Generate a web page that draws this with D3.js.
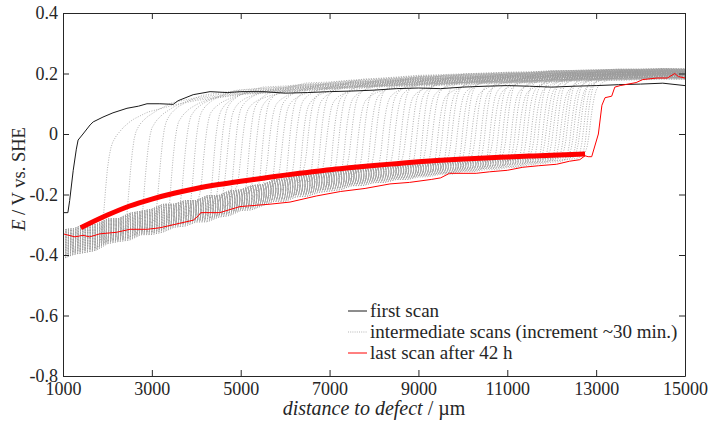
<!DOCTYPE html>
<html><head><meta charset="utf-8">
<script src="https://cdn.jsdelivr.net/npm/d3@7"></script>
<style>
body{margin:0;background:#fff}
svg text{font-family:"Liberation Serif","Times New Roman",Times,serif;fill:#262626}
</style>
</head><body>
<svg id="c" width="709" height="426"></svg>
<script>
// ---------------- data ----------------
const xTicks = [1000,3000,5000,7000,9000,11000,13000,15000];
const yTicks = [-0.8,-0.6,-0.4,-0.2,0,0.2,0.4];

// first scan
const firstScanX = [1000,1110,1150,1230,1300,1340,1450,1610,1680,1900,2125,2440,2700,2890,3180,3480,3590,3930,4310,4700,5000,5500,6000,6500,7000,7500,8000,8500,9000,9500,10000,10500,11000,11500,12000,12500,13000,13500,14000,14500,15000];
const firstScanE = [-0.26,-0.26,-0.22,-0.12,-0.05,-0.02,0.0,0.03,0.04,0.056,0.07,0.085,0.092,0.10,0.10,0.098,0.11,0.13,0.14,0.137,0.14,0.14,0.135,0.137,0.14,0.142,0.145,0.15,0.152,0.15,0.155,0.158,0.16,0.158,0.155,0.158,0.16,0.163,0.165,0.168,0.16];

// last scan after 42 h
const lastScanX = [1000,1270,1450,1600,1830,2200,2510,2900,3180,3630,3930,4050,4100,4530,4980,5660,6110,6700,7250,7800,8360,8800,9300,9500,9700,10300,10600,11000,11350,11700,12110,12400,12630,12750,12820,12900,13050,13130,13200,13350,13420,13540,13900,14050,14370,14600,14770,14850,15000];
const lastScanE = [-0.33,-0.34,-0.335,-0.34,-0.33,-0.325,-0.315,-0.315,-0.31,-0.295,-0.285,-0.27,-0.26,-0.26,-0.24,-0.232,-0.225,-0.205,-0.19,-0.18,-0.165,-0.16,-0.15,-0.145,-0.13,-0.13,-0.125,-0.12,-0.11,-0.105,-0.10,-0.09,-0.085,-0.072,-0.075,-0.075,0.0,0.095,0.12,0.125,0.155,0.16,0.17,0.18,0.185,0.185,0.2,0.19,0.185];

// thick red fit through the front potentials
const fitX = [1400,2000,2500,3000,3500,4000,4500,5000,5500,6000,6500,7000,7500,8000,8500,9000,9500,10000,10500,11000,11500,12000,12750];
const fitE = [-0.31,-0.268,-0.238,-0.215,-0.196,-0.18,-0.167,-0.156,-0.146,-0.136,-0.127,-0.118,-0.111,-0.104,-0.098,-0.092,-0.087,-0.083,-0.079,-0.076,-0.073,-0.07,-0.066];

// envelope of the intermediate scans, delaminated part (left of each front)
const lowerX   = [1000,1250,1500,1750,2000,2250,2500,2750,3000,3250,3500,3750,4000,4250,4500,4750,5000,5250,5500,5750,6000,6250,6500,6750,7000,7250,7500,7750,8000,8250,8500,8750,9000,9250,9500,9750,10000,10250,10500,10750,11000,11250,11500,11750,12000,12250,12500,12750,13000];
const lowerTop = [-0.311,-0.308,-0.292,-0.295,-0.276,-0.276,-0.257,-0.251,-0.244,-0.227,-0.228,-0.215,-0.216,-0.199,-0.2,-0.183,-0.181,-0.166,-0.163,-0.147,-0.144,-0.132,-0.134,-0.12,-0.122,-0.112,-0.114,-0.102,-0.104,-0.095,-0.098,-0.09,-0.093,-0.085,-0.088,-0.081,-0.085,-0.077,-0.08,-0.074,-0.077,-0.071,-0.074,-0.069,-0.072,-0.067,-0.07,-0.065,-0.066];
const lowerBot = [-0.423,-0.407,-0.402,-0.394,-0.372,-0.364,-0.361,-0.342,-0.342,-0.335,-0.317,-0.314,-0.299,-0.3,-0.283,-0.279,-0.261,-0.26,-0.244,-0.231,-0.231,-0.216,-0.214,-0.201,-0.196,-0.192,-0.177,-0.178,-0.167,-0.167,-0.156,-0.157,-0.148,-0.147,-0.138,-0.139,-0.129,-0.13,-0.122,-0.123,-0.115,-0.115,-0.105,-0.106,-0.098,-0.097,-0.088,-0.087,-0.08];
// envelope of the intermediate scans, intact part (right of each front)
const upperX   = [1000,1250,1500,1750,2000,2500,3000,3500,4000,4500,5000,5500,6000,6500,7000,7500,8000,8500,9000,9500,10000,10500,11000,11500,12000,12500,13000,13500,14000,14500,15000];
const upperTop = [-0.02,0.0,0.012,0.03,0.05,0.08,0.10,0.12,0.135,0.148,0.155,0.162,0.165,0.172,0.175,0.182,0.185,0.19,0.196,0.198,0.201,0.203,0.206,0.207,0.211,0.212,0.214,0.216,0.216,0.218,0.217];
const upperBot = [-0.06,-0.045,-0.03,-0.01,0.01,0.05,0.07,0.09,0.105,0.113,0.125,0.128,0.133,0.139,0.143,0.146,0.15,0.153,0.155,0.157,0.16,0.163,0.164,0.165,0.168,0.171,0.172,0.173,0.175,0.177,0.176];

// shape of a front (distance from front in µm -> fraction of the rise)
const frontDx   = [-200,-100,-50,0,50,100,150,200,300,450,700,1000];
const frontFrac = [0,0.02,0.06,0.2,0.45,0.65,0.78,0.85,0.9,0.94,0.975,1];

// front position of each intermediate scan (µm)
const frontX = [1900,2450,2800,3130,3400,3680,3900,4120,4340,4500,
  4650,4810,4970,5130,5290,5440,5590,5740,5890,6040,6190,6330,
  6470,6610,6750,6890,7030,7170,7310,7450,7590,7730,7870,8010,8150,8290,8430,8570,
  8690,8810,8930,9050,9165,9280,9395,9510,9620,9730,9840,9950,10055,10160,10265,
  10370,10470,10570,10670,10770,10865,10960,11055,11150,11240,11330,11420,11510,11595,
  11680,11765,11850,11930,12010,12090,12170,12250,12325,12400,12475,12550,12620,12690,12760,12830];
// position of each scan inside the lower / upper envelope (0 = bottom, 1 = top)
const lowPos = [0.10,0.30,0.20,0.45,0.15,0.60,0.35,0.80,0.25,0.55,
  0.70,0.40,0.90,0.20,0.65,0.50,0.85,0.30,0.75,0.45,
  0.60,0.15,0.95,0.55,0.35,0.80,0.25,0.70,0.50,0.90,
  0.40,0.65,0.20,0.85,0.55,0.30,0.75,0.45,0.95,0.35,
  0.60,0.10,0.80,0.50,0.25,0.70,0.40,0.90,0.55,0.20,
  0.75,0.45,0.85,0.30,0.65,0.15,0.95,0.50,0.35,0.80,
  0.25,0.60,0.90,0.40,0.70,0.20,0.85,0.55,0.10,0.75,
  0.45,0.95,0.30,0.65,0.50,0.80,0.20,0.70,0.40,0.90,
  0.60,0.35,0.75];
const highPos = [0.20,0.50,0.35,0.65,0.25,0.45,0.70,0.30,0.55,0.80,
  0.40,0.60,0.15,0.75,0.50,0.90,0.35,0.65,0.25,0.85,
  0.55,0.30,0.70,0.45,0.95,0.20,0.60,0.80,0.40,0.65,
  0.10,0.75,0.50,0.85,0.30,0.60,0.45,0.90,0.25,0.70,
  0.55,0.95,0.35,0.65,0.15,0.80,0.50,0.75,0.40,0.60,
  0.85,0.25,0.70,0.45,0.90,0.55,0.30,0.75,0.60,0.95,
  0.40,0.65,0.20,0.80,0.50,0.70,0.35,0.90,0.60,0.45,
  0.75,0.55,0.85,0.30,0.65,0.95,0.50,0.70,0.40,0.80,
  0.60,0.90,0.55];

const legendLabels = ["first scan","intermediate scans (increment ~30 min.)","last scan after 42 h"];

// ---------------- drawing ----------------
const m = {l:63, r:685, t:13, b:376};
const x = d3.scaleLinear().domain([1000,15000]).range([m.l,m.r]);
const y = d3.scaleLinear().domain([-0.8,0.4]).range([m.b,m.t]);
const svg = d3.select('#c');
svg.append('defs').append('clipPath').attr('id','clip')
  .append('rect').attr('x',m.l).attr('y',m.t).attr('width',m.r-m.l).attr('height',m.b-m.t);
const plot = svg.append('g').attr('clip-path','url(#clip)');

const lt = d3.scaleLinear().domain(lowerX).range(lowerTop).clamp(true);
const lb = d3.scaleLinear().domain(lowerX).range(lowerBot).clamp(true);
const ut = d3.scaleLinear().domain(upperX).range(upperTop).clamp(true);
const ub = d3.scaleLinear().domain(upperX).range(upperBot).clamp(true);
const prof = d3.scaleLinear().domain(frontDx).range(frontFrac).clamp(true);
const line = d3.line().x(d=>x(d[0])).y(d=>y(d[1]));
const xs = d3.range(1000,15001,40);

frontX.forEach((f,i)=>{
  const pts = xs.map(xx=>{
    const lo = lb(xx) + lowPos[i]*(lt(xx)-lb(xx));
    const hi = ub(xx) + highPos[i]*(ut(xx)-ub(xx));
    const fr = prof(xx-f);
    return [xx, lo + fr*(hi-lo)];
  });
  plot.append('path').attr('d',line(pts)).attr('fill','none')
    .attr('stroke','#9c9c9c').attr('stroke-width',0.8).attr('stroke-dasharray','1,1.5');
});

plot.append('path').attr('d',line(firstScanX.map((v,i)=>[v,firstScanE[i]])))
  .attr('fill','none').attr('stroke','#1a1a1a').attr('stroke-width',1);
plot.append('path').attr('d',line(lastScanX.map((v,i)=>[v,lastScanE[i]])))
  .attr('fill','none').attr('stroke','#ff0000').attr('stroke-width',1);
plot.append('path').attr('d',d3.line().curve(d3.curveMonotoneX).x(d=>x(d[0])).y(d=>y(d[1]))(fitX.map((v,i)=>[v,fitE[i]])))
  .attr('fill','none').attr('stroke','#ff0000').attr('stroke-width',5);

// axes
const fs = 18;
const fmtY = d => d===0 ? "0" : d.toFixed(1);
function styleAxis(g){
  g.attr('font-family',null).attr('font-size',null);
  g.selectAll('path,line').attr('stroke','#262626').attr('stroke-width',1);
  g.selectAll('text').attr('font-size',fs).attr('fill','#262626');
}
svg.append('g').attr('transform',`translate(0,${m.b})`)
  .call(d3.axisBottom(x).tickValues(xTicks).tickFormat(d3.format('d')).tickSize(-6).tickSizeOuter(0).tickPadding(6)).call(styleAxis);
svg.append('g').attr('transform',`translate(${m.l},0)`)
  .call(d3.axisLeft(y).tickValues(yTicks).tickFormat(fmtY).tickSize(-6).tickSizeOuter(0).tickPadding(5)).call(styleAxis);
svg.append('g').attr('transform',`translate(0,${m.t})`)
  .call(d3.axisTop(x).tickValues(xTicks).tickFormat('').tickSize(-6).tickSizeOuter(0)).call(styleAxis);
svg.append('g').attr('transform',`translate(${m.r},0)`)
  .call(d3.axisRight(y).tickValues(yTicks).tickFormat('').tickSize(-6).tickSizeOuter(0)).call(styleAxis);

// axis titles
const yl = svg.append('text').attr('transform','translate(25,179) rotate(-90)').attr('text-anchor','middle').attr('font-size',18.5);
yl.append('tspan').attr('font-style','italic').text('E');
yl.append('tspan').text(' / V vs. SHE');
const xl = svg.append('text').attr('x',(m.l+m.r)/2).attr('y',415).attr('text-anchor','middle').attr('font-size',20);
xl.append('tspan').attr('font-style','italic').text('distance to defect');
xl.append('tspan').text(' / µm');

// legend
const legY = [311,332,353];
const legStyles = [
  {stroke:'#1a1a1a', dash:null},
  {stroke:'#b5b5b5', dash:'1,1.2'},
  {stroke:'#ff0000', dash:null}
];
legendLabels.forEach((t,i)=>{
  svg.append('line').attr('x1',348).attr('x2',367).attr('y1',legY[i]).attr('y2',legY[i])
    .attr('stroke',legStyles[i].stroke).attr('stroke-width',1).attr('stroke-dasharray',legStyles[i].dash);
  svg.append('text').attr('x',370).attr('y',legY[i]+6).attr('font-size',19).text(t);
});
</script>
</body></html>
